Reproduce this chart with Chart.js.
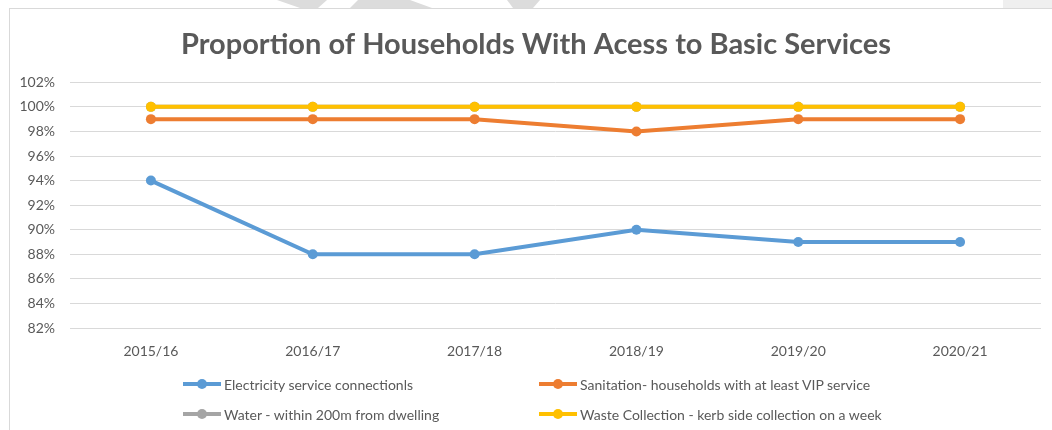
<!DOCTYPE html>
<html>
<head>
<meta charset="utf-8">
<script src="https://cdn.jsdelivr.net/npm/chart.js@4.4.1/dist/chart.umd.min.js"></script>
<style>
  html, body { margin:0; padding:0; background:#fff; }
  #page { position:relative; width:1052px; height:430px; overflow:hidden; font-family:Lato, "Open Sans", sans-serif; }
  #wm { position:absolute; left:0; top:0; }
  #box { position:absolute; left:9px; top:8px; width:1100px; height:500px; border:1px solid #d9d9d9; background:#fff; }
  #wrap { position:absolute; left:0; top:0; width:1052px; height:430px; }
  .lg { position:absolute; display:flex; align-items:center; font-size:14px; color:#595959; white-space:nowrap; height:20px; }
  .lg .mk { position:relative; width:38px; height:4px; margin-right:3px; }
  .lg .mk i { position:absolute; left:14px; top:-3px; width:10px; height:10px; border-radius:50%; }
</style>
</head>
<body>
<div id="page">
  <svg id="wm" width="1052" height="10">
    <polygon points="277,0 327,0 318,8 300,8" fill="#dcdcdc"/>
    <polygon points="350,8 358,0 410,0 432,8" fill="#dcdcdc"/>
    <polygon points="507,0 540,0 533,8 513,8" fill="#dcdcdc"/>
    <rect x="1003" y="0" width="49" height="8" fill="#efefef"/>
  </svg>
  <div id="box"></div>
  <div id="wrap"><canvas id="chart"></canvas></div>
  <div id="legend"></div>
</div>
<script>
const years = ['2015/16','2016/17','2017/18','2018/19','2019/20','2020/21'];
const electricity = [94, 88, 88, 90, 89, 89];
const sanitation = [99, 99, 99, 98, 99, 99];
const water = [100, 100, 100, 100, 100, 100];
const waste = [100, 100, 100, 100, 100, 100];
const seriesNames = [
  'Electricity service connectionls',
  'Sanitation- households with at least VIP service',
  'Water - within 200m from dwelling',
  'Waste Collection - kerb side collection on a week'
];
const colors = ['#5b9bd5', '#ed7d31', '#a5a5a5', '#ffc000'];

function line(label, data, color, order){
  return {
    label, data, order,
    borderColor: color, backgroundColor: color,
    borderWidth: 4, pointRadius: 5, pointHoverRadius: 5,
    pointBorderWidth: 0, tension: 0, fill: false
  };
}

new Chart(document.getElementById('chart'), {
  type: 'line',
  data: {
    labels: years,
    datasets: [
      line(seriesNames[0], electricity, colors[0], 4),
      line(seriesNames[1], sanitation, colors[1], 3),
      line(seriesNames[2], water, colors[2], 2),
      line(seriesNames[3], waste, colors[3], 1)
    ]
  },
  options: {
    responsive: true,
    maintainAspectRatio: false,
    animation: false,
    layout: { padding: { left: 31, right: 11, top: 0, bottom: 62 } },
    plugins: {
      legend: { display: false },
      tooltip: { enabled: false },
      title: {
        display: true,
        text: 'Proportion of Households With Acess to Basic Services',
        color: '#595959',
        font: { family: 'Lato', size: 29, weight: 'bold' },
        padding: { top: 27, bottom: 20.5 }
      }
    },
    scales: {
      x: {
        offset: true,
        grid: { display: false },
        border: { display: false },
        ticks: { color: '#595959', font: { family: 'Lato', size: 14 }, padding: 7, maxRotation: 0 },
        afterFit: s => { s.height = 40; }
      },
      y: {
        min: 82, max: 102,
        grid: { color: '#d9d9d9', lineWidth: 1, drawTicks: false },
        border: { display: false },
        ticks: { stepSize: 2, color: '#595959', font: { family: 'Lato', size: 14 }, padding: 15,
                 callback: v => v + '%' },
        afterFit: s => {
          s.width = 39;
          // narrow axis box, so let the % labels run past its left edge
          s._computeLabelArea = () => undefined;
        }
      }
    }
  }
});

// legend in two rows, two columns
const spots = [[183, 374], [539, 374], [183, 404], [539, 404]];
const legend = document.getElementById('legend');
seriesNames.forEach((name, i) => {
  const el = document.createElement('div');
  el.className = 'lg';
  el.style.left = spots[i][0] + 'px';
  el.style.top = spots[i][1] + 'px';
  el.innerHTML = '<span class="mk" style="background:' + colors[i] + '"><i style="background:' + colors[i] + '"></i></span>' + name;
  legend.appendChild(el);
});
</script>
</body>
</html>
